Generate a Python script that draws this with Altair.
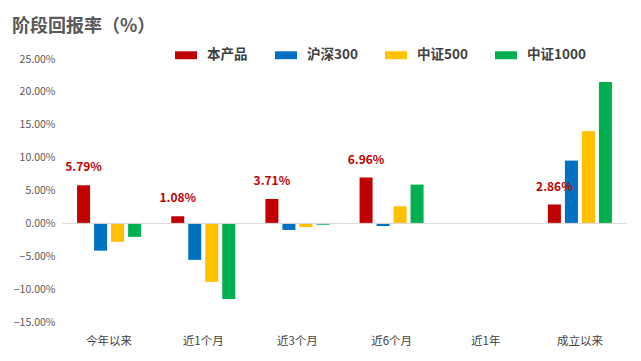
import altair as alt
import pandas as pd

categories = ["今年以来", "近1个月", "近3个月", "近6个月", "近1年", "成立以来"]
series_names = ["本产品", "沪深300", "中证500", "中证1000"]
product = [5.79, 1.08, 3.71, 6.96, None, 2.86]
hs300 = [-4.15, -5.55, -1.0, -0.4, None, 9.55]
zz500 = [-2.8, -8.9, -0.55, 2.6, None, 14.0]
zz1000 = [-2.05, -11.5, -0.2, 5.9, None, 21.5]
colors = ["#C00000", "#0070C0", "#FFC000", "#00B050"]
y_ticks = [-15, -10, -5, 0, 5, 10, 15, 20, 25]
title_text = "阶段回报率（%）"

rows = []
for s, vals in zip(series_names, [product, hs300, zz500, zz1000]):
    for c, v in zip(categories, vals):
        rows.append({"cat": c, "series": s, "value": v})
df = pd.DataFrame(rows)

FONT = "Noto Sans CJK SC"

x_axis = alt.Axis(title=None, labelAngle=0, domain=False, ticks=False,
                  labelPadding=13, labelFontSize=11.5, labelColor="#404040",
                  labelFont=FONT)
y_axis = alt.Axis(title=None, values=y_ticks, grid=False, domain=False, ticks=False,
                  labelExpr="format(datum.value, '.2f') + '%'",
                  labelOverlap=False,
                  labelFontSize=10.5, labelColor="#595959", labelPadding=7,
                  labelFont=FONT)
x_scale = alt.Scale(domain=categories, paddingInner=0.32, paddingOuter=0.16)
xoff_scale = alt.Scale(domain=series_names, paddingInner=0.235, paddingOuter=0)
y_scale = alt.Scale(domain=[-15, 25], nice=False)

bars = alt.Chart(df).mark_bar().encode(
    x=alt.X("cat:N", sort=categories, scale=x_scale, axis=x_axis),
    xOffset=alt.XOffset("series:N", sort=series_names, scale=xoff_scale),
    y=alt.Y("value:Q", scale=y_scale, axis=y_axis),
    color=alt.Color("series:N", sort=series_names,
                    scale=alt.Scale(domain=series_names, range=colors),
                    legend=alt.Legend(title=None, orient="none", direction="horizontal",
                                      legendX=113, legendY=-15, padding=0,
                                      symbolType="M-1,-0.36H1V0.36H-1Z", symbolSize=484,
                                      symbolStrokeWidth=0, symbolOpacity=1,
                                      labelFontSize=13.5, labelFontWeight="bold",
                                      labelColor="#404040", labelFont=FONT,
                                      labelOffset=10, columnPadding=27, labelLimit=200)),
)

zero = alt.Chart(pd.DataFrame({"value": [0]})).mark_rule(color="#d9d9d9", strokeWidth=1).encode(
    y=alt.Y("value:Q", scale=y_scale, axis=y_axis)
)

labels = alt.Chart(df).transform_filter(
    (alt.datum.series == "本产品") & alt.expr.isValid(alt.datum.value)
).transform_calculate(
    lbl="format(datum.value, '.2f') + '%'"
).mark_text(color="#C00000", fontWeight="bold", fontSize=12, dy=-18, font=FONT).encode(
    x=alt.X("cat:N", sort=categories, scale=x_scale, axis=x_axis),
    xOffset=alt.XOffset("series:N", sort=series_names, scale=xoff_scale),
    y=alt.Y("value:Q", scale=y_scale, axis=y_axis),
    text="lbl:N",
)

title = alt.Chart(pd.DataFrame({"t": [title_text]})).mark_text(
    align="left", baseline="middle", fontSize=18, fontWeight="bold",
    color="#595959", font=FONT
).encode(x=alt.value(-50), y=alt.value(-32), text="t:N")

chart = alt.layer(bars, zero, labels, title).properties(
    width=565, height=263,
    autosize=alt.AutoSizeParams(type="none"),
    padding={"left": 54, "top": 51, "right": 6, "bottom": 30},
).configure_view(stroke=None)

chart.save("out.html", embed_options={"renderer": "svg", "actions": False})
